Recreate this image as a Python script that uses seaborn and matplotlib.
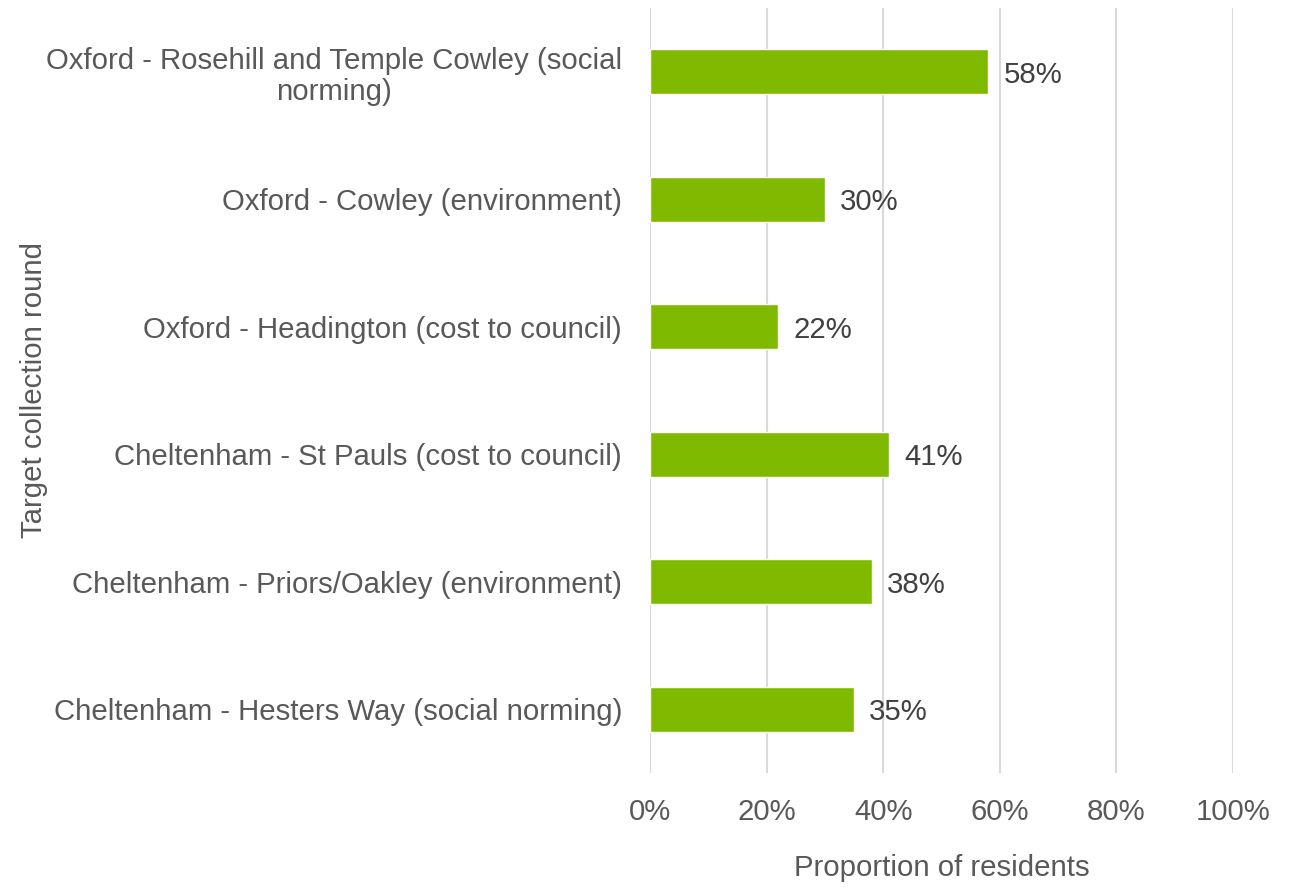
import matplotlib
matplotlib.use("Agg")
import matplotlib.pyplot as plt
import seaborn as sns
import pandas as pd
from matplotlib.ticker import PercentFormatter

categories = [
    "Oxford - Rosehill and Temple Cowley (social\nnorming)",
    "Oxford - Cowley (environment)",
    "Oxford - Headington (cost to council)",
    "Cheltenham - St Pauls (cost to council)",
    "Cheltenham - Priors/Oakley (environment)",
    "Cheltenham - Hesters Way (social norming)",
]
values = [58, 30, 22, 41, 38, 35]
x_ticks = [0, 20, 40, 60, 80, 100]

df = pd.DataFrame({"round": categories, "pct": values})

sns.set_theme(style="white")
plt.rcParams["font.family"] = ["Liberation Sans", "DejaVu Sans"]

fig = plt.figure(figsize=(12.89, 8.92), dpi=100)
ax = fig.add_axes([650 / 1289, 1 - 773 / 892, 583 / 1289, (773 - 8) / 892])

sns.barplot(data=df, x="pct", y="round", orient="h", color="#7FBA00",
            saturation=1, width=0.353, ax=ax, zorder=3)

ax.set_xlim(0, 100)
ax.set_ylim(5.5, -0.5)
ax.set_xticks(x_ticks)
ax.xaxis.set_major_formatter(PercentFormatter(decimals=0))
ax.grid(axis="x", color="#D9D9D9", linewidth=1.5, zorder=0)
ax.grid(axis="y", visible=False)
for s in ax.spines.values():
    s.set_visible(False)

ax.tick_params(axis="y", length=0, pad=20, labelsize=21.2, labelcolor="#595959")
ax.tick_params(axis="x", length=0, pad=18, labelsize=21.2, labelcolor="#595959")
for t in ax.get_yticklabels():
    t.set_multialignment("center")
    t.set_linespacing(1.15)

ax.set_xlabel("Proportion of residents", fontsize=21.2, color="#595959", labelpad=20)
ax.set_ylabel("Target collection round", fontsize=21.2, color="#595959")
ax.yaxis.set_label_coords(-1.032, 0.5)

for cont in ax.containers:
    txts = ax.bar_label(cont, labels=[f"{v}%" for v in values], padding=11,
                        fontsize=21.2, color="#404040")
    for t in txts:
        t.set_va("center_baseline")

fig.savefig("out.png", dpi=100)
